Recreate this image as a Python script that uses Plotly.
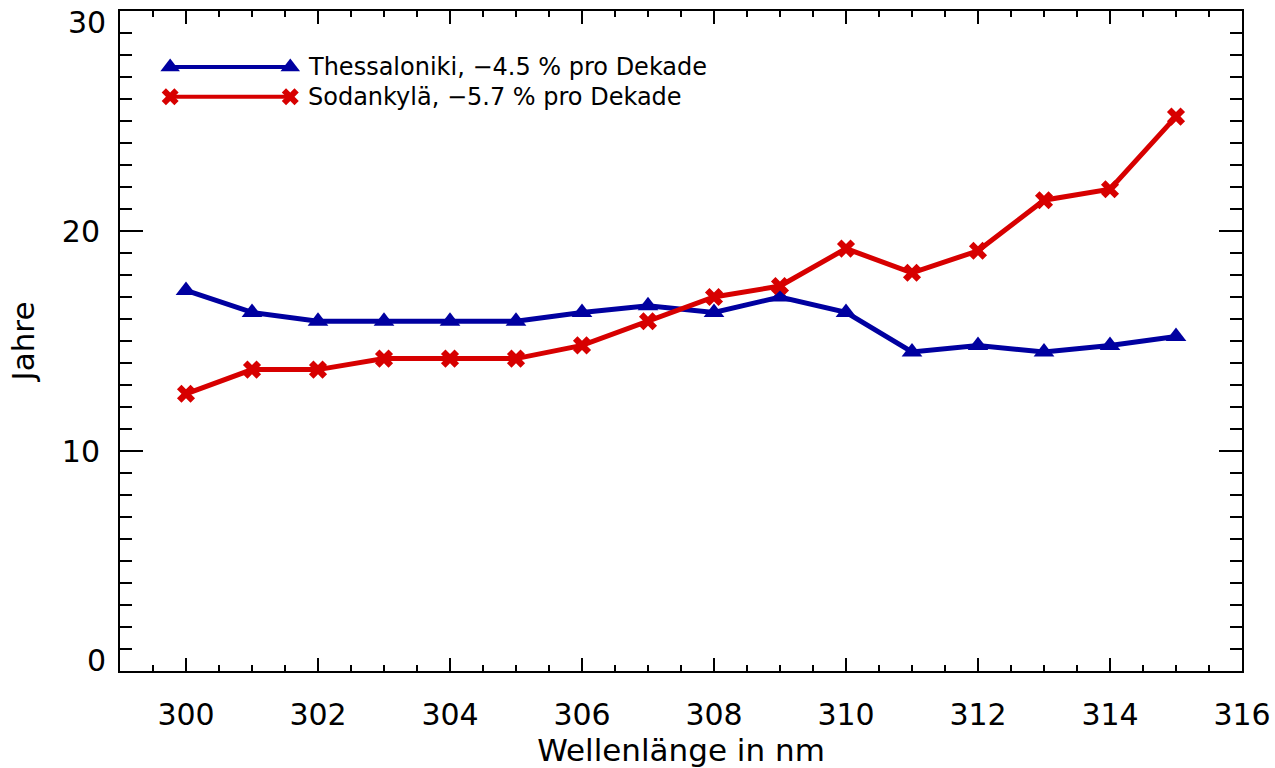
import plotly.graph_objects as go

wavelength = [300, 301, 302, 303, 304, 305, 306, 307, 308, 309, 310, 311, 312, 313, 314, 315]
thessaloniki = [17.3, 16.3, 15.9, 15.9, 15.9, 15.9, 16.3, 16.6, 16.3, 17.0, 16.3, 14.5, 14.8, 14.5, 14.8, 15.2]
sodankyla = [12.6, 13.7, 13.7, 14.2, 14.2, 14.2, 14.8, 15.9, 17.0, 17.5, 19.2, 18.1, 19.1, 21.4, 21.9, 25.2]
names = ["Thessaloniki, \u22124.5 % pro Dekade", "Sodankyl\u00e4, \u22125.7 % pro Dekade"]
x_ticks = [300, 302, 304, 306, 308, 310, 312, 314, 316]
y_ticks = [0, 10, 20, 30]

BLUE = "rgb(0,0,160)"
RED = "rgb(215,0,0)"
FONT = "DejaVu Sans"

fig = go.Figure()
fig.add_trace(go.Scatter(x=wavelength, y=thessaloniki, mode="lines+markers",
                         line=dict(color=BLUE, width=5),
                         marker=dict(symbol="triangle-up", size=18, color=BLUE),
                         showlegend=False))
fig.add_trace(go.Scatter(x=wavelength, y=sodankyla, mode="lines+markers",
                         line=dict(color=RED, width=5),
                         marker=dict(symbol="x", size=16, color=RED),
                         showlegend=False))

# manual legend (IDL style: line with markers at both ends)
leg_x = [299.76, 301.58]
leg_y = [27.45, 26.1]
for name, col, sym, sz, ly in [(names[0], BLUE, "triangle-up", 17, leg_y[0]),
                               (names[1], RED, "x", 15, leg_y[1])]:
    fig.add_trace(go.Scatter(x=leg_x, y=[ly, ly], mode="lines+markers",
                             line=dict(color=col, width=4),
                             marker=dict(symbol=sym, size=sz, color=col),
                             showlegend=False, hoverinfo="skip"))
    fig.add_annotation(x=leg_x[1], y=ly, xshift=16, text=name, showarrow=False,
                       xanchor="left", yanchor="middle",
                       font=dict(family=FONT, size=24, color="black"))

# IDL nudges the end labels of the y axis inward
y_text = [str(v) if v not in (y_ticks[0], y_ticks[-1]) else "" for v in y_ticks]
for v, shift in [(y_ticks[0], 11), (y_ticks[-1], -11)]:
    fig.add_annotation(xref="paper", x=0, y=v, xanchor="right", yanchor="middle",
                       xshift=-12, yshift=shift, text=str(v), showarrow=False,
                       font=dict(family=FONT, size=30, color="black"))

axis_common = dict(showline=True, linecolor="black", linewidth=2, mirror="allticks",
                   ticks="inside", tickcolor="black", tickwidth=2,
                   showgrid=False, zeroline=False, tickmode="array",
                   automargin=False, ticklabeloverflow="allow",
                   tickfont=dict(family=FONT, size=30, color="black"))

fig.update_xaxes(range=[299, 316], tickvals=x_ticks, ticklen=13,
                 minor=dict(dtick=0.5, tick0=300, ticklen=6, ticks="inside",
                            tickcolor="black", tickwidth=2, showgrid=False),
                 title=dict(text="Wellenl\u00e4nge in nm", standoff=8,
                            font=dict(family=FONT, size=31, color="black")),
                 ticklabelstandoff=16, **axis_common)
fig.update_yaxes(range=[0, 30], tickvals=y_ticks, ticktext=y_text, ticklen=23,
                 minor=dict(dtick=1, ticklen=12, ticks="inside",
                            tickcolor="black", tickwidth=2, showgrid=False),
                 title=dict(text="Jahre", standoff=18,
                            font=dict(family=FONT, size=31, color="black")),
                 ticklabelstandoff=12, **axis_common)

fig.update_layout(width=1275, height=768, plot_bgcolor="white", paper_bgcolor="white",
                  margin=dict(l=120, r=33, t=11, b=97), showlegend=False)

fig.write_html("out.html")
